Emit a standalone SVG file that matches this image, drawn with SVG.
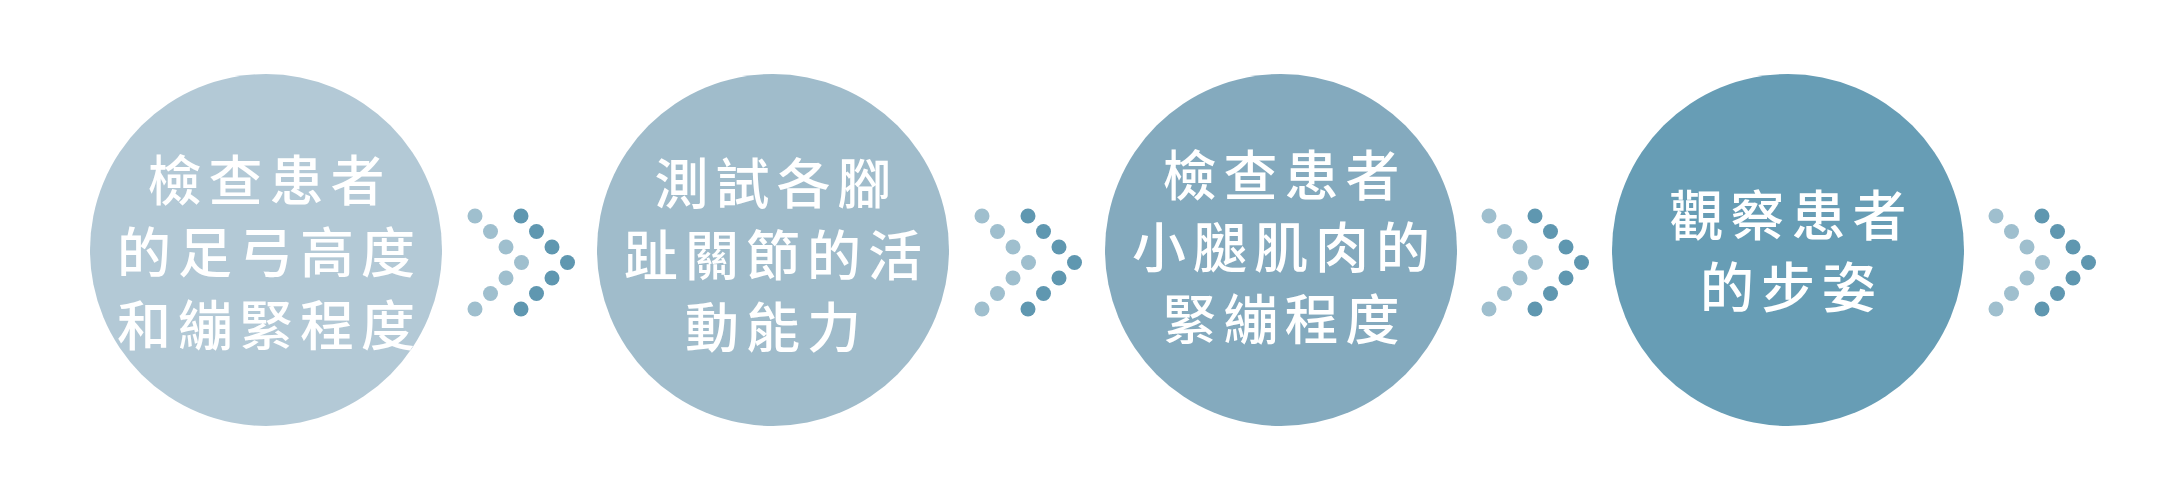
<svg xmlns="http://www.w3.org/2000/svg" xmlns:xlink="http://www.w3.org/1999/xlink" width="2168" height="480" viewBox="0 0 2168 480">
  <style>
    .lbl { font-family: "Noto Sans CJK TC", "Noto Sans CJK SC", sans-serif; font-size: 54px; font-weight: 500; fill: #ffffff; text-anchor: middle; letter-spacing: 7px; }
    .lt { fill: #9fbfce; }
    .dk { fill: #5f97b0; }
  </style>
  <defs>
    <g id="chev">
      <circle class="lt" cx="0" cy="0" r="7.5"/>
      <circle class="lt" cx="15.5" cy="15.5" r="7.5"/>
      <circle class="lt" cx="31" cy="31" r="7.5"/>
      <circle class="lt" cx="46.5" cy="46.5" r="7.5"/>
      <circle class="lt" cx="31" cy="62" r="7.5"/>
      <circle class="lt" cx="15.5" cy="77.5" r="7.5"/>
      <circle class="lt" cx="0" cy="93" r="7.5"/>
      <circle class="dk" cx="46" cy="0" r="7.5"/>
      <circle class="dk" cx="61.5" cy="15.5" r="7.5"/>
      <circle class="dk" cx="77" cy="31" r="7.5"/>
      <circle class="dk" cx="92.5" cy="46.5" r="7.5"/>
      <circle class="dk" cx="77" cy="62" r="7.5"/>
      <circle class="dk" cx="61.5" cy="77.5" r="7.5"/>
      <circle class="dk" cx="46" cy="93" r="7.5"/>
    </g>
  </defs>
  <rect width="2168" height="480" fill="#ffffff"/>
  <g id="node1">
    <circle cx="266" cy="250" r="176" fill="#b3c9d6"/>
    <text class="lbl" x="269.5" y="201">檢查患者</text>
    <text class="lbl" x="269.5" y="273">的足弓高度</text>
    <text class="lbl" x="269.5" y="346">和繃緊程度</text>
  </g>
  <g id="node2">
    <circle cx="773" cy="250" r="176" fill="#a0bccb"/>
    <text class="lbl" x="776.5" y="204">測試各腳</text>
    <text class="lbl" x="776.5" y="276">趾關節的活</text>
    <text class="lbl" x="776.5" y="348">動能力</text>
  </g>
  <g id="node3">
    <circle cx="1281" cy="250" r="176" fill="#84aabe"/>
    <text class="lbl" x="1284.5" y="196">檢查患者</text>
    <text class="lbl" x="1284.5" y="268">小腿肌肉的</text>
    <text class="lbl" x="1284.5" y="340">緊繃程度</text>
  </g>
  <g id="node4">
    <circle cx="1788" cy="250" r="176" fill="#679db5"/>
    <text class="lbl" x="1791.5" y="236">觀察患者</text>
    <text class="lbl" x="1791.5" y="308">的步姿</text>
  </g>
  <g id="connectors">
    <use xlink:href="#chev" href="#chev" x="475" y="216"/>
    <use xlink:href="#chev" href="#chev" x="982" y="216"/>
    <use xlink:href="#chev" href="#chev" x="1489" y="216"/>
    <use xlink:href="#chev" href="#chev" x="1996" y="216"/>
  </g>
</svg>
